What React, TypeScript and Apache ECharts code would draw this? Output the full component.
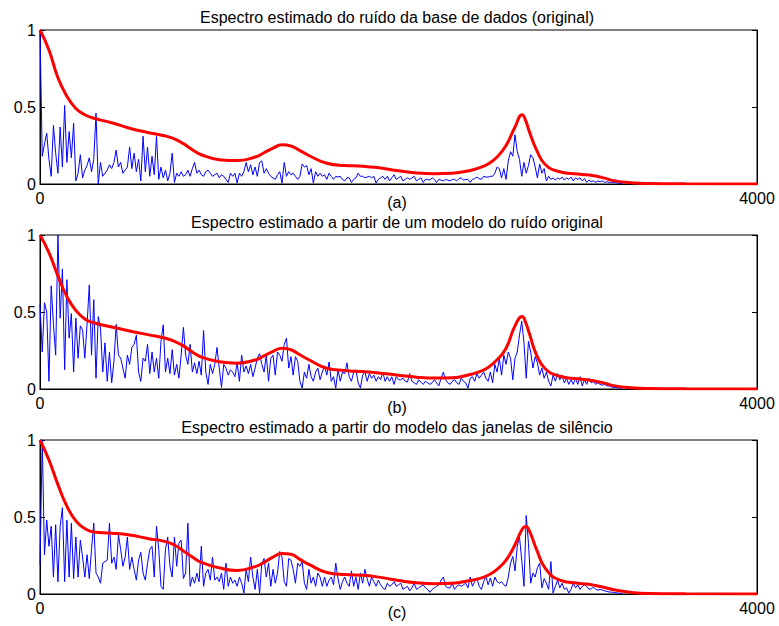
import React, { useEffect, useRef } from "react";
import * as echarts from "echarts";

// Blue spectra sampled every 12.5 Hz starting at 0 Hz
const STEP_HZ = 12.5;

const blueA = [
  1.0, 0.18, 0.26, 0.33, 0.16, 0.05, 0.38, 0.2, 0.07, 0.37,
  0.11, 0.51, 0.14, 0.34, 0.17, 0.395, 0.02, 0.07, 0.19, 0.04,
  0.09, 0.12, 0.17, 0.08, 0.16, 0.46, 0.0, 0.14, 0.05, 0.07,
  0.09, 0.125, 0.1, 0.14, 0.22, 0.11, 0.14, 0.07, 0.09, 0.11,
  0.24, 0.1, 0.2, 0.08, 0.16, 0.02, 0.31, 0.08, 0.24, 0.05,
  0.18, 0.06, 0.31, 0.03, 0.11, 0.04, 0.09, 0.02, 0.07, 0.2,
  0.01, 0.07, 0.05, 0.08, 0.05, 0.06, 0.09, 0.05, 0.1, 0.14,
  0.07, 0.09, 0.06, 0.05, 0.08, 0.09, 0.07, 0.05, 0.06, 0.07,
  0.04, 0.06, 0.05, 0.03, 0.01, 0.07, 0.05, 0.07, 0.006, 0.07,
  0.05, 0.08, 0.14, 0.08, 0.125, 0.06, 0.11, 0.05, 0.14, 0.15,
  0.07, 0.1, 0.07, 0.05, 0.04, 0.03, 0.06, 0.08, 0.006, 0.14,
  0.05, 0.08, 0.06, 0.07, 0.05, 0.03, 0.05, 0.13, 0.11, 0.12,
  0.06, 0.1, 0.006, 0.08, 0.05, 0.07, 0.05, 0.06, 0.03, 0.07,
  0.05, 0.03, 0.05, 0.045, 0.05, 0.03, 0.02, 0.04, 0.04, 0.01,
  0.03, 0.04, 0.07, 0.05, 0.05, 0.04, 0.045, 0.05, 0.04, 0.05,
  0.006, 0.03, 0.04, 0.05, 0.03, 0.05, 0.02, 0.04, 0.06, 0.03,
  0.04, 0.05, 0.02, 0.03, 0.04, 0.03, 0.04, 0.05, 0.02, 0.03,
  0.04, 0.01, 0.03, 0.03, 0.025, 0.04, 0.03, 0.01, 0.03, 0.025,
  0.02, 0.03, 0.025, 0.02, 0.03, 0.03, 0.02, 0.035, 0.04, 0.025,
  0.03, 0.03, 0.01, 0.03, 0.035, 0.045, 0.035, 0.03, 0.05, 0.045,
  0.045, 0.05, 0.05, 0.07, 0.11, 0.1, 0.04, 0.1, 0.03, 0.15,
  0.21, 0.18, 0.32, 0.21, 0.16, 0.05, 0.14, 0.07, 0.12, 0.19,
  0.17, 0.11, 0.04, 0.13, 0.07, 0.1, 0.02, 0.05, 0.03, 0.04,
  0.025, 0.04, 0.03, 0.045, 0.025, 0.04, 0.03, 0.045, 0.02, 0.04,
  0.03, 0.04, 0.02, 0.035, 0.01, 0.025, 0.015, 0.02, 0.01, 0.02,
  0.015, 0.02, 0.01, 0.015, 0.01, 0.012, 0.008, 0.01, 0.005, 0.004,
  0.003,
];

const blueB = [
  0.55, 0.24, 0.56, 0.5, 0.05, 0.67, 0.42, 0.22, 1.0, 0.46,
  0.78, 0.125, 0.71, 0.33, 0.49, 0.11, 0.46, 0.2, 0.41, 0.385,
  0.2, 0.417, 0.676, 0.22, 0.58, 0.07, 0.47, 0.395, 0.11, 0.3,
  0.05, 0.24, 0.04, 0.18, 0.42, 0.22, 0.2, 0.136, 0.07, 0.22,
  0.16, 0.27, 0.29, 0.35, 0.11, 0.05, 0.2, 0.18, 0.29, 0.1,
  0.24, 0.11, 0.2, 0.07, 0.31, 0.417, 0.11, 0.2, 0.1, 0.255,
  0.09, 0.16, 0.07, 0.22, 0.4, 0.22, 0.16, 0.29, 0.11, 0.17,
  0.1, 0.18, 0.09, 0.38, 0.11, 0.03, 0.16, 0.1, 0.16, 0.27,
  0.136, 0.01, 0.16, 0.136, 0.09, 0.125, 0.11, 0.08, 0.17, 0.05,
  0.22, 0.11, 0.15, 0.1, 0.16, 0.08, 0.136, 0.2, 0.23, 0.16,
  0.11, 0.22, 0.05, 0.2, 0.22, 0.09, 0.24, 0.22, 0.18, 0.29,
  0.33, 0.136, 0.21, 0.09, 0.21, 0.18, 0.05, 0.006, 0.11, 0.07,
  0.16, 0.08, 0.05, 0.11, 0.136, 0.06, 0.11, 0.15, 0.09, 0.175,
  0.05, 0.08, 0.006, 0.125, 0.05, 0.11, 0.1, 0.17, 0.08, 0.05,
  0.11, 0.125, 0.04, 0.006, 0.09, 0.11, 0.05, 0.1, 0.07, 0.09,
  0.05, 0.08, 0.06, 0.11, 0.05, 0.08, 0.05, 0.08, 0.03, 0.08,
  0.06, 0.06, 0.07, 0.05, 0.045, 0.1, 0.05, 0.04, 0.03, 0.06,
  0.045, 0.03, 0.05, 0.04, 0.03, 0.04, 0.06, 0.04, 0.02, 0.07,
  0.11, 0.06, 0.04, 0.03, 0.05, 0.06, 0.04, 0.03, 0.07, 0.05,
  0.04, 0.006, 0.07, 0.08, 0.05, 0.1, 0.07, 0.09, 0.11, 0.07,
  0.05, 0.11, 0.04, 0.16, 0.11, 0.2, 0.09, 0.22, 0.16, 0.24,
  0.2, 0.06, 0.2, 0.24, 0.35, 0.44, 0.3, 0.07, 0.31, 0.24,
  0.136, 0.21, 0.17, 0.09, 0.136, 0.07, 0.11, 0.05, 0.02, 0.09,
  0.05, 0.1, 0.06, 0.09, 0.04, 0.07, 0.03, 0.06, 0.03, 0.07,
  0.03, 0.08, 0.02, 0.06, 0.03, 0.07, 0.04, 0.05, 0.03, 0.04,
  0.03, 0.025, 0.03, 0.02, 0.02, 0.013, 0.01, 0.01, 0.008, 0.006,
  0.005,
];

const blueC = [
  0.19, 1.0, 0.255, 0.48, 0.31, 0.44, 0.11, 0.45, 0.08, 0.44,
  0.56, 0.08, 0.48, 0.11, 0.46, 0.1, 0.37, 0.11, 0.35, 0.24,
  0.11, 0.255, 0.1, 0.29, 0.46, 0.136, 0.11, 0.07, 0.2, 0.21,
  0.22, 0.46, 0.2, 0.24, 0.16, 0.385, 0.29, 0.18, 0.24, 0.37,
  0.16, 0.24, 0.16, 0.09, 0.22, 0.27, 0.136, 0.09, 0.2, 0.29,
  0.31, 0.11, 0.44, 0.29, 0.05, 0.03, 0.29, 0.37, 0.18, 0.11,
  0.37, 0.18, 0.33, 0.35, 0.1, 0.136, 0.46, 0.05, 0.11, 0.07,
  0.136, 0.08, 0.31, 0.05, 0.136, 0.16, 0.09, 0.24, 0.09, 0.11,
  0.08, 0.136, 0.03, 0.2, 0.05, 0.11, 0.07, 0.09, 0.05, 0.11,
  0.07, 0.006, 0.16, 0.08, 0.24, 0.11, 0.03, 0.16, 0.006, 0.2,
  0.23, 0.11, 0.2, 0.05, 0.16, 0.07, 0.136, 0.276, 0.24, 0.08,
  0.05, 0.23, 0.22, 0.16, 0.07, 0.2, 0.18, 0.21, 0.07, 0.03,
  0.16, 0.07, 0.11, 0.05, 0.136, 0.11, 0.05, 0.11, 0.05, 0.09,
  0.11, 0.06, 0.2, 0.1, 0.03, 0.08, 0.11, 0.07, 0.05, 0.15,
  0.05, 0.11, 0.03, 0.136, 0.07, 0.16, 0.1, 0.05, 0.11, 0.08,
  0.05, 0.09, 0.06, 0.04, 0.03, 0.07, 0.05, 0.06, 0.08, 0.05,
  0.06, 0.07, 0.03, 0.04, 0.05, 0.02, 0.04, 0.07, 0.03, 0.04,
  0.05, 0.06, 0.04, 0.03, 0.011, 0.03, 0.04, 0.05, 0.06, 0.09,
  0.11, 0.05, 0.04, 0.04, 0.07, 0.03, 0.05, 0.06, 0.05, 0.06,
  0.07, 0.04, 0.11, 0.05, 0.08, 0.104, 0.05, 0.03, 0.08, 0.114,
  0.06, 0.104, 0.05, 0.11, 0.08, 0.07, 0.08, 0.06, 0.05, 0.11,
  0.2, 0.244, 0.15, 0.31, 0.37, 0.22, 0.05, 0.51, 0.33, 0.07,
  0.136, 0.11, 0.17, 0.2, 0.04, 0.1, 0.07, 0.03, 0.21, 0.006,
  0.05, 0.09, 0.04, 0.07, 0.03, 0.04, 0.006, 0.03, 0.07, 0.04,
  0.06, 0.03, 0.05, 0.06, 0.05, 0.03, 0.035, 0.045, 0.03, 0.025,
  0.03, 0.025, 0.02, 0.017, 0.013, 0.012, 0.011, 0.008, 0.006, 0.005,
  0.004,
];

// Smooth model spectra (red), sampled at these frequencies (Hz)
const redFreq = [
  0, 50, 100, 150, 200, 250, 300, 400, 500, 600, 700, 750, 800, 850, 900,
  1000, 1100, 1200, 1250, 1300, 1350, 1400, 1450, 1500, 1600, 1700, 1800,
  1900, 2000, 2100, 2200, 2300, 2400, 2450, 2500, 2550, 2600, 2650, 2690,
  2710, 2730, 2770, 2820, 2900, 3000, 3050, 3100, 3150, 3200, 3300, 3400,
  3600, 4000,
];
const redA = [
  1.0, 0.87, 0.69, 0.57, 0.49, 0.45, 0.427, 0.398, 0.362, 0.335, 0.312, 0.293,
  0.262, 0.223, 0.19, 0.158, 0.152, 0.175, 0.203, 0.233, 0.255, 0.247, 0.217,
  0.185, 0.135, 0.12, 0.116, 0.104, 0.086, 0.072, 0.067, 0.07, 0.088, 0.105,
  0.13, 0.175, 0.25, 0.37, 0.45, 0.41, 0.34, 0.222, 0.125, 0.08, 0.065, 0.06,
  0.052, 0.038, 0.022, 0.008, 0.003, 0.001, 0,
];
const redB = [
  1.0, 0.885, 0.735, 0.6, 0.51, 0.455, 0.43, 0.403, 0.377, 0.353, 0.33, 0.31,
  0.28, 0.24, 0.207, 0.177, 0.168, 0.188, 0.215, 0.245, 0.265, 0.255, 0.222,
  0.19, 0.135, 0.12, 0.113, 0.103, 0.09, 0.077, 0.071, 0.073, 0.094, 0.112,
  0.14, 0.19, 0.265, 0.41, 0.47, 0.43, 0.36, 0.222, 0.13, 0.083, 0.066, 0.06,
  0.05, 0.038, 0.022, 0.008, 0.003, 0.001, 0,
];
const redC = [
  1.0, 0.87, 0.71, 0.57, 0.475, 0.425, 0.402, 0.395, 0.383, 0.361, 0.34, 0.318,
  0.28, 0.24, 0.205, 0.17, 0.153, 0.178, 0.205, 0.24, 0.263, 0.258, 0.225,
  0.192, 0.14, 0.126, 0.122, 0.108, 0.088, 0.073, 0.067, 0.07, 0.088, 0.1,
  0.122, 0.16, 0.22, 0.32, 0.42, 0.438, 0.41, 0.29, 0.165, 0.09, 0.07, 0.065,
  0.055, 0.042, 0.028, 0.01, 0.003, 0.001, 0,
];

const titles = [
  "Espectro estimado do ruído da base de dados (original)",
  "Espectro estimado a partir de um modelo do ruído original",
  "Espectro estimado a partir do modelo das janelas de silêncio",
];
const captions = ["(a)", "(b)", "(c)"];
const xMin = 0;
const xMax = 4000;
const yMin = 0;
const yMax = 1;
const yStep = 0.5;

const blues = [blueA, blueB, blueC];
const reds = [redA, redB, redC];

export default function App() {
  const ref = useRef<HTMLDivElement>(null);

  useEffect(() => {
    if (!ref.current) return;
    const chart = echarts.init(ref.current, null, { renderer: "svg" });
    const font = "'Liberation Sans', Arial, Helvetica, sans-serif";
    const tops = [30, 235, 440];
    const H = 154;
    const L = 40;
    const R = 22;

    const grid = tops.map((t) => ({
      left: L,
      right: R,
      top: t,
      height: H,
      show: true,
      borderColor: "#000",
      borderWidth: 1,
      backgroundColor: "transparent",
    }));

    const xAxis = tops.map((_, k) => ({
      type: "value",
      gridIndex: k,
      min: xMin,
      max: xMax,
      interval: xMax - xMin,
      axisLine: { show: true, onZero: false, lineStyle: { color: "#000", width: 1 } },
      axisTick: { show: false },
      splitLine: { show: false },
      axisLabel: {
        color: "#000",
        fontSize: 16,
        fontFamily: font,
        margin: 6,
        formatter: (v: number) => String(v),
      },
    }));

    const yAxis: any[] = [];
    tops.forEach((_, k) => {
      yAxis.push({
        type: "value",
        gridIndex: k,
        position: "left",
        min: yMin,
        max: yMax,
        interval: yStep,
        axisLine: { show: true, lineStyle: { color: "#000", width: 1 } },
        axisTick: { show: true, inside: true, length: 5, lineStyle: { color: "#000" } },
        splitLine: { show: false },
        axisLabel: {
          color: "#000",
          fontSize: 16,
          fontFamily: font,
          margin: 4,
          formatter: (v: number) => String(v),
        },
      });
      yAxis.push({
        type: "value",
        gridIndex: k,
        position: "right",
        min: yMin,
        max: yMax,
        interval: yStep,
        axisLine: { show: true, lineStyle: { color: "#000", width: 1 } },
        axisTick: { show: true, inside: true, length: 5, lineStyle: { color: "#000" } },
        splitLine: { show: false },
        axisLabel: { show: false },
      });
    });

    const series: any[] = [];
    tops.forEach((_, k) => {
      series.push({
        type: "line",
        xAxisIndex: k,
        yAxisIndex: k * 2,
        data: blues[k].map((v, i) => [i * STEP_HZ, v]),
        showSymbol: false,
        symbol: "none",
        lineStyle: { color: "#0000ff", width: 1 },
        z: 2,
      });
      series.push({
        type: "line",
        xAxisIndex: k,
        yAxisIndex: k * 2,
        data: redFreq.map((f, j) => [f, reds[k][j]]),
        showSymbol: false,
        symbol: "none",
        smooth: 0.5,
        lineStyle: { color: "#ff0000", width: 3 },
        z: 3,
      });
    });

    const graphic: any[] = [];
    tops.forEach((t, k) => {
      graphic.push({
        type: "text",
        x: 397,
        y: t - 13,
        style: {
          text: titles[k],
          font: `16px ${font}`,
          fill: "#000",
          textAlign: "center",
          textVerticalAlign: "middle",
        },
      });
      graphic.push({
        type: "text",
        x: 397,
        y: t + H + 18,
        style: {
          text: captions[k],
          font: `16px ${font}`,
          fill: "#000",
          textAlign: "center",
          textVerticalAlign: "middle",
        },
      });
    });

    chart.setOption({
      animation: false,
      backgroundColor: "#fff",
      grid,
      xAxis,
      yAxis,
      series,
      graphic,
    });

    return () => chart.dispose();
  }, []);

  return (
    <div
      ref={ref}
      style={{ position: "absolute", left: 0, top: 0, width: 779, height: 626 }}
    />
  );
}
